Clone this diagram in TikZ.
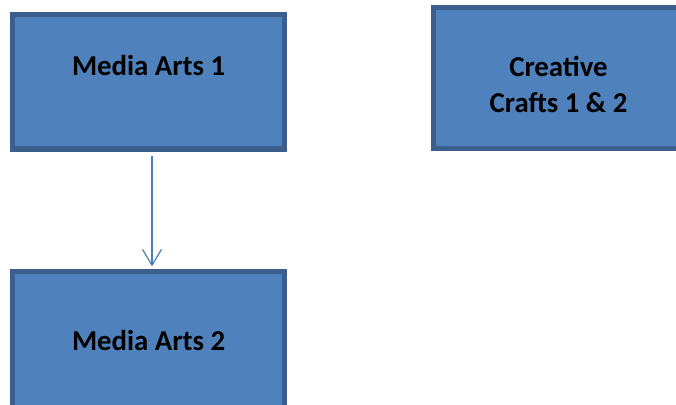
\documentclass[tikz,border=0pt]{standalone}
\usepackage{fontspec}
\setmainfont{Carlito}
\usetikzlibrary{arrows.meta}
\definecolor{boxfill}{HTML}{4F81BD}
\definecolor{boxline}{HTML}{3A5F8C}
\definecolor{arrowcol}{HTML}{4A7EBB}
\tikzset{
  box/.style={draw=boxline, fill=boxfill, line width=5.2pt, rectangle, inner sep=0pt},
  lbl/.style={font=\bfseries\fontsize{28.8}{36}\selectfont, text=black, inner sep=0pt, align=center},
  conn/.style={draw=arrowcol, line width=1.2pt, -{Straight Barb[length=16pt,width=19pt,line width=1.2pt]}}
}
\begin{document}
\begin{tikzpicture}[x=1pt,y=1pt]
\useasboundingbox (0,0) rectangle (676,-404);
\clip (0,0) rectangle (676,-404);
\node[box, minimum width=272.5pt, minimum height=134.5pt] (ma1) at (148.6,-81.8) {};
\node[box, minimum width=272.5pt, minimum height=150pt] (ma2) at (148.6,-346.6) {};
\node[box, minimum width=250pt, minimum height=141pt] (cc) at (558.5,-77.9) {};
\node[lbl, anchor=base] (ma1t) at (148.6,-75) {Media Arts 1};
\node[lbl, anchor=base] (ma2t) at (148.6,-350) {Media Arts 2};
\node[lbl, anchor=center] (cct) at (558.5,-84.3) {Creative\\Crafts 1 \& 2};
\draw[conn, shorten <=4pt, shorten >=2.5pt] ([xshift=3.4pt]ma1.south) -- ([xshift=3.4pt]ma2.north);
\end{tikzpicture}
\end{document}
